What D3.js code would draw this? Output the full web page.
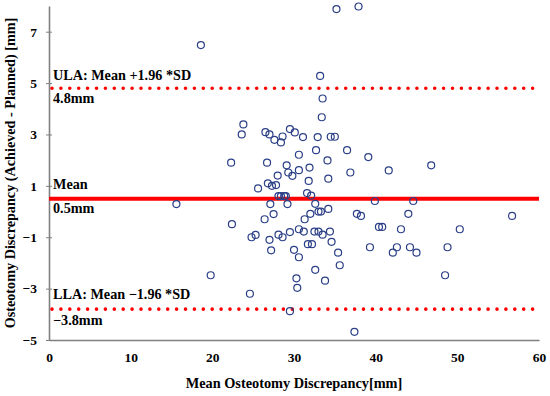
<!DOCTYPE html>
<html>
<head>
<meta charset="utf-8">
<script src="https://cdn.jsdelivr.net/npm/d3@7"></script>
<style>
  body { margin: 0; background: #fff; }
  text { font-family: "Liberation Serif", "Times New Roman", serif; font-weight: bold; fill: #000; }
</style>
</head>
<body>
<div id="chart"></div>
<script>
// DATA
const meanX = [15.6, 18.6, 19.8, 22.3, 22.4, 23.6, 23.8, 24.6, 24.8, 25.3, 25.6, 26.4, 26.5, 26.7, 26.8, 27.0, 27.0, 27.1, 27.2, 27.3,
  27.5, 27.6, 27.8, 28.0, 28.1, 28.1, 28.4, 28.4, 28.6, 28.6, 28.8, 29.0, 29.1, 29.2, 29.3, 29.5, 29.5, 29.5, 29.8, 30.0,
  30.1, 30.3, 30.4, 30.6, 30.6, 30.6, 30.6, 31.1, 31.2, 31.3, 31.6, 31.7, 31.8, 31.9, 32.0, 32.1, 32.2, 32.5, 32.6, 32.6,
  32.7, 32.9, 33.0, 33.0, 33.2, 33.3, 33.4, 33.5, 33.5, 33.8, 34.1, 34.2, 34.2, 34.4, 34.5, 34.6, 35.0, 35.2, 35.4, 35.6,
  36.5, 36.9, 37.4, 37.7, 37.9, 38.2, 39.1, 39.3, 39.9, 40.4, 40.8, 41.6, 42.1, 42.6, 43.1, 44.0, 44.2, 44.6, 45.0, 46.8,
  48.5, 48.8, 50.3, 56.7];
const diffY = [0.29, 6.48, -2.48, 1.90, -0.49, 3.00, 3.39, -3.20, -1.00, -0.91, 0.90, -0.30, 3.09, 1.90, 1.10, 3.00, -1.10, 0.29, -1.51, 1.00,
  -0.10, 2.79, 1.03, 1.40, 0.60, -0.90, 2.69, 0.60, 2.92, -1.00, 0.60, 0.60, 1.80, 0.29, 1.52, 3.21, -0.80, -3.88, 1.39, -1.49,
  3.08, -2.60, -2.97, 2.21, 1.61, -0.69, -1.78, 2.90, -0.78, -0.30, 0.72, -1.27, 1.19, 1.71, -0.09, 0.62, -1.27, -0.78, 0.30, -2.27,
  2.39, 2.90, 0.00, -0.78, 5.28, 0.00, 3.67, 4.40, -0.90, -2.69, 1.99, 1.28, 0.10, -0.78, 2.91, -1.18, 2.91, 7.88, -1.60, -2.09,
  2.39, 1.52, -4.68, -0.09, 7.98, -0.17, 2.12, -1.39, 0.41, -0.60, -0.60, 1.60, -1.60, -1.39, -0.69, -0.09, -1.39, 0.41, -1.60, 1.80,
  -2.48, -1.39, -0.69, -0.17];

const meanDiff = 0.5;
const ula = 4.8;
const lla = -3.8;
const xTicks = [0, 10, 20, 30, 40, 50, 60];
const yTicks = [-5, -3, -1, 1, 3, 5, 7];

const points = meanX.map((x, i) => ({ x: x, y: diffY[i] }));

// SIZE
const W = 550, H = 396;
const margin = { top: 6, right: 11, bottom: 56, left: 49 };

const svg = d3.select("#chart")
    .append("svg")
    .attr("width", W)
    .attr("height", H);

const x = d3.scaleLinear()
    .domain([0, 60])
    .range([margin.left, W - margin.right]);

const y = d3.scaleLinear()
    .domain([-5, 8])
    .range([H - margin.bottom, margin.top]);

// AXES
const xAxis = svg.append("g")
    .attr("transform", `translate(0, ${H - margin.bottom})`)
    .call(d3.axisBottom(x).tickValues(xTicks).tickSize(0).tickSizeOuter(0).tickPadding(12));

const yAxis = svg.append("g")
    .attr("transform", `translate(${margin.left}, 0)`)
    .call(d3.axisLeft(y).tickValues(yTicks).tickSize(3).tickSizeOuter(0).tickPadding(9));

[xAxis, yAxis].forEach(a => {
  a.select(".domain").attr("stroke", "#808080").attr("stroke-width", 1.6);
  a.selectAll("text").style("font-size", "13.5px").attr("fill", "#000");
});
yAxis.selectAll(".tick line").attr("x1", -3).attr("x2", 3).attr("stroke", "#808080");

// LIMIT LINES
svg.append("line")
    .attr("x1", x(0)).attr("x2", x(60))
    .attr("y1", y(meanDiff)).attr("y2", y(meanDiff))
    .attr("stroke", "#ff0000")
    .attr("stroke-width", 4);

[ula, lla].forEach(v => {
  svg.append("line")
      .attr("x1", x(0) + 3).attr("x2", x(60))
      .attr("y1", y(v)).attr("y2", y(v))
      .attr("stroke", "#ff0000")
      .attr("stroke-width", 3.6)
      .attr("stroke-linecap", "round")
      .attr("stroke-dasharray", "0 8.9");
});

// POINTS
svg.selectAll("circle.pt")
    .data(points)
    .enter()
    .append("circle")
    .attr("class", "pt")
    .attr("cx", d => x(d.x))
    .attr("cy", d => y(d.y))
    .attr("r", 3.5)
    .attr("fill", "none")
    .attr("stroke", "#2b3f87")
    .attr("stroke-width", 1.2);

// ANNOTATIONS
const notes = [
  ["ULA: Mean +1.96 *SD", y(ula) - 8],
  ["4.8mm", y(ula) + 15],
  ["Mean", y(meanDiff) - 10],
  ["0.5mm", y(meanDiff) + 14],
  ["LLA: Mean \u22121.96 *SD", y(lla) - 10],
  ["\u22123.8mm", y(lla) + 15.5]
];

svg.selectAll("text.note")
    .data(notes)
    .enter()
    .append("text")
    .attr("class", "note")
    .attr("x", x(0) + 4)
    .attr("y", d => d[1])
    .style("font-size", "14.2px")
    .text(d => d[0]);

// TITLES
svg.append("text")
    .attr("x", (x(0) + x(60)) / 2)
    .attr("y", 388)
    .attr("text-anchor", "middle")
    .style("font-size", "14.3px")
    .text("Mean Osteotomy Discrepancy[mm]");

svg.append("text")
    .attr("transform", "rotate(-90)")
    .attr("x", -(y(-5) + y(8)) / 2)
    .attr("y", 15)
    .attr("text-anchor", "middle")
    .style("font-size", "14.2px")
    .text("Osteotomy Discrepancy (Achieved - Planned) [mm]");
</script>
</body>
</html>
